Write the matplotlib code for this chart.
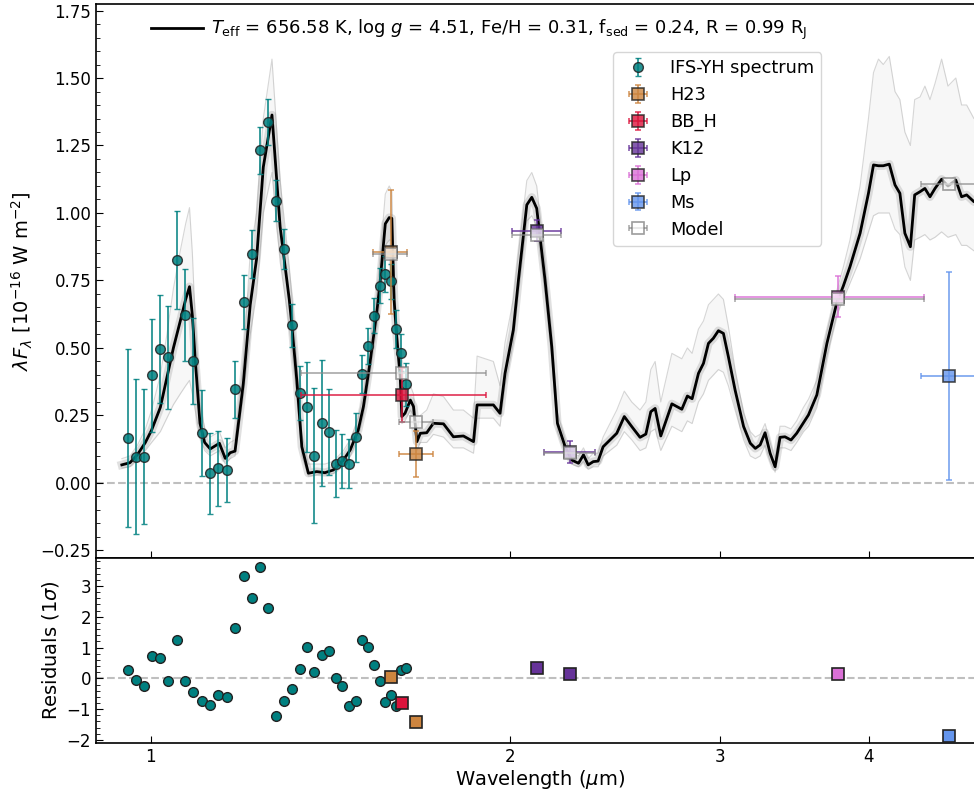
"""
Best-fit atmosphere model vs. IFS-YH spectrum + photometry, with residuals.
"""

import matplotlib.pyplot as plt
import numpy as np
from matplotlib.ticker import MultipleLocator, NullLocator, FixedLocator

# ---------------------------------------------------------------------------
# Data
# ---------------------------------------------------------------------------

# IFS-YH spectrum
ifs_wave = [0.957, 0.972, 0.987, 1.002, 1.018, 1.035, 1.052, 1.069, 1.086, 1.104,
            1.122, 1.140, 1.159, 1.178, 1.197, 1.216, 1.235, 1.255, 1.274, 1.294,
            1.313, 1.334, 1.353, 1.372, 1.392, 1.411, 1.430, 1.448, 1.467, 1.486,
            1.503, 1.521, 1.539, 1.556, 1.573, 1.589, 1.605, 1.621, 1.636]
ifs_flux = [0.167, 0.097, 0.097, 0.399, 0.497, 0.465, 0.826, 0.622, 0.452, 0.184,
            0.036, 0.054, 0.048, 0.347, 0.670, 0.848, 1.233, 1.336, 1.046, 0.866,
            0.584, 0.334, 0.281, 0.100, 0.223, 0.189, 0.072, 0.081, 0.072, 0.169,
            0.403, 0.507, 0.620, 0.731, 0.774, 0.747, 0.569, 0.483, 0.366]
ifs_err = [0.330, 0.287, 0.250, 0.210, 0.200, 0.190, 0.180, 0.170, 0.160, 0.160,
           0.150, 0.140, 0.120, 0.106, 0.100, 0.090, 0.087, 0.085, 0.075, 0.074,
           0.080, 0.100, 0.166, 0.250, 0.233, 0.160, 0.124, 0.100, 0.090, 0.090,
           0.070, 0.068, 0.064, 0.064, 0.065, 0.065, 0.070, 0.070, 0.080]
ifs_resid = [0.26, -0.04, -0.26, 0.72, 0.67, -0.10, 1.24, -0.10, -0.43, -0.73,
             -0.87, -0.55, -0.62, 1.64, 3.34, 2.62, 3.63, 2.28, -1.22, -0.72,
             -0.34, 0.30, 1.03, 0.20, 0.77, 0.89, 0.02, -0.24, -0.91, -0.72,
             1.24, 1.02, 0.45, -0.10, -0.76, -0.53, -0.90, 0.28, 0.33]

# photometry: name, colour, wavelength, half-width, flux, error, model flux, residual
phot_names  = ["H23", "H23", "BB_H", "K12", "K12", "Lp", "Ms"]
phot_colors = ["peru", "peru", "crimson", "rebeccapurple", "rebeccapurple",
               "orchid", "cornflowerblue"]
phot_wave  = [1.589, 1.670, 1.624, 2.108, 2.248, 3.770, 4.665]
phot_width = [0.052, 0.056, 0.287, 0.101, 0.112, 0.683, 0.245]
phot_flux  = [0.857, 0.107, 0.326, 0.935, 0.115, 0.690, 0.396]
phot_err   = [0.230, 0.085, 0.100, 0.040, 0.040, 0.075, 0.386]
phot_model = [0.848, 0.227, 0.406, 0.920, 0.110, 0.680, 1.107]
phot_resid = [0.04, -1.43, -0.80, 0.35, 0.13, 0.15, -1.86]

# best-fit model spectrum and the spread of the posterior draws
mod_wave = [0.946, 0.961, 0.975, 0.990, 1.002, 1.019, 1.032, 1.045, 1.059, 1.070,
            1.078, 1.084, 1.090, 1.100, 1.110, 1.122, 1.142, 1.155, 1.166, 1.177,
            1.196, 1.212, 1.227, 1.243, 1.264, 1.284, 1.307, 1.313, 1.326, 1.339,
            1.356, 1.378, 1.400, 1.423, 1.451, 1.470, 1.493, 1.508, 1.527, 1.547,
            1.557, 1.573, 1.585, 1.593, 1.600, 1.608, 1.619, 1.624, 1.634, 1.651,
            1.661, 1.672, 1.683, 1.704, 1.726, 1.760, 1.794, 1.829, 1.865, 1.878,
            1.938, 1.963, 1.982, 2.014, 2.034, 2.067, 2.087, 2.107, 2.141, 2.169,
            2.193, 2.226, 2.254, 2.284, 2.306, 2.327, 2.350, 2.372, 2.395, 2.427,
            2.459, 2.495, 2.531, 2.572, 2.601, 2.626, 2.648, 2.677, 2.735, 2.788,
            2.818, 2.844, 2.879, 2.907, 2.935, 2.963, 2.992, 3.021, 3.050, 3.090,
            3.141, 3.182, 3.213, 3.243, 3.274, 3.306, 3.338, 3.370, 3.402, 3.442,
            3.480, 3.526, 3.560, 3.618, 3.689, 3.759, 3.808, 3.857, 3.933, 3.997,
            4.036, 4.075, 4.113, 4.161, 4.207, 4.247, 4.288, 4.334, 4.370, 4.416,
            4.457, 4.501, 4.545, 4.603, 4.660, 4.731, 4.784, 4.831, 4.899, 5.004]
mod_flux = [0.067, 0.075, 0.105, 0.150, 0.196, 0.280, 0.390, 0.500, 0.600, 0.680,
            0.727, 0.620, 0.456, 0.221, 0.150, 0.126, 0.147, 0.091, 0.112, 0.118,
            0.369, 0.660, 0.830, 1.170, 1.363, 0.950, 0.678, 0.590, 0.381, 0.134,
            0.036, 0.042, 0.038, 0.048, 0.085, 0.122, 0.196, 0.283, 0.443, 0.628,
            0.740, 0.960, 0.983, 0.980, 0.678, 0.542, 0.394, 0.246, 0.258, 0.307,
            0.283, 0.153, 0.184, 0.186, 0.221, 0.219, 0.171, 0.174, 0.153, 0.289,
            0.289, 0.258, 0.406, 0.567, 0.752, 1.030, 1.058, 1.017, 0.752, 0.505,
            0.221, 0.134, 0.085, 0.073, 0.104, 0.067, 0.079, 0.081, 0.134, 0.159,
            0.184, 0.246, 0.209, 0.169, 0.181, 0.264, 0.276, 0.174, 0.293, 0.273,
            0.322, 0.312, 0.406, 0.443, 0.517, 0.536, 0.564, 0.554, 0.468, 0.344,
            0.209, 0.147, 0.128, 0.141, 0.186, 0.110, 0.060, 0.169, 0.171, 0.159,
            0.184, 0.223, 0.252, 0.326, 0.517, 0.666, 0.730, 0.801, 0.925, 1.073,
            1.178, 1.175, 1.175, 1.181, 1.104, 1.073, 0.925, 0.875, 1.067, 1.079,
            1.091, 1.060, 1.091, 1.125, 1.100, 1.122, 1.060, 1.067, 1.042, 1.030]
mod_hi = [0.090, 0.100, 0.140, 0.200, 0.270, 0.400, 0.550, 0.720, 0.860, 0.960,
          1.020, 0.850, 0.600, 0.300, 0.200, 0.170, 0.190, 0.130, 0.150, 0.160,
          0.450, 0.850, 1.000, 1.350, 1.570, 1.120, 0.800, 0.700, 0.450, 0.180,
          0.070, 0.070, 0.070, 0.080, 0.120, 0.160, 0.240, 0.330, 0.500, 0.700,
          0.830, 1.070, 1.100, 1.080, 0.740, 0.600, 0.440, 0.300, 0.320, 0.360,
          0.330, 0.200, 0.250, 0.270, 0.330, 0.320, 0.270, 0.270, 0.240, 0.470,
          0.450, 0.360, 0.520, 0.680, 0.850, 1.120, 1.150, 1.100, 0.820, 0.560,
          0.260, 0.160, 0.110, 0.100, 0.130, 0.090, 0.110, 0.110, 0.170, 0.220,
          0.270, 0.340, 0.300, 0.270, 0.300, 0.420, 0.450, 0.300, 0.480, 0.460,
          0.500, 0.480, 0.570, 0.600, 0.660, 0.680, 0.700, 0.680, 0.580, 0.420,
          0.260, 0.190, 0.170, 0.180, 0.220, 0.150, 0.090, 0.210, 0.210, 0.200,
          0.230, 0.280, 0.310, 0.380, 0.560, 0.710, 0.800, 0.900, 1.100, 1.350,
          1.520, 1.570, 1.550, 1.580, 1.450, 1.420, 1.300, 1.250, 1.420, 1.430,
          1.470, 1.420, 1.480, 1.570, 1.470, 1.500, 1.400, 1.400, 1.350, 1.330]
mod_lo = [0.055, 0.060, 0.090, 0.120, 0.150, 0.190, 0.240, 0.290, 0.330, 0.360,
          0.380, 0.330, 0.270, 0.170, 0.120, 0.100, 0.120, 0.070, 0.090, 0.100,
          0.320, 0.550, 0.700, 1.000, 1.150, 0.820, 0.580, 0.500, 0.320, 0.100,
          0.025, 0.030, 0.030, 0.035, 0.070, 0.100, 0.170, 0.250, 0.400, 0.570,
          0.670, 0.880, 0.900, 0.900, 0.620, 0.500, 0.360, 0.220, 0.230, 0.270,
          0.250, 0.120, 0.150, 0.150, 0.180, 0.170, 0.130, 0.130, 0.110, 0.240,
          0.240, 0.210, 0.360, 0.520, 0.700, 0.970, 0.990, 0.950, 0.700, 0.460,
          0.190, 0.110, 0.070, 0.060, 0.080, 0.050, 0.060, 0.060, 0.100, 0.120,
          0.140, 0.190, 0.160, 0.120, 0.130, 0.190, 0.200, 0.120, 0.210, 0.190,
          0.230, 0.220, 0.300, 0.330, 0.380, 0.400, 0.420, 0.410, 0.360, 0.270,
          0.160, 0.100, 0.090, 0.100, 0.140, 0.080, 0.040, 0.130, 0.130, 0.120,
          0.150, 0.190, 0.210, 0.280, 0.470, 0.620, 0.680, 0.740, 0.830, 0.930,
          0.990, 1.000, 1.000, 1.000, 0.940, 0.920, 0.800, 0.750, 0.900, 0.910,
          0.920, 0.900, 0.910, 0.930, 0.910, 0.920, 0.880, 0.880, 0.860, 0.850]

fit_label = (r"$T_{\rm eff}$ = 656.58 K, log $g$ = 4.51, Fe/H = 0.31, "
             r"f$_{\rm sed}$ = 0.24, R = 0.99 R$_{\rm J}$")

# ---------------------------------------------------------------------------
# Figure layout (right edge of the axes runs past the image, as in the original)
# ---------------------------------------------------------------------------

W, H = 974, 798
fig = plt.figure(figsize=(W / 100, H / 100), dpi=100)
x0, x1 = 0.9, 5.0
left_px, px_per_dec = 96, 1193
ax_w = px_per_dec * np.log10(x1 / x0) / W
ax  = fig.add_axes([left_px / W, 1 - 558 / H, ax_w, (558 - 3.5) / H])
axr = fig.add_axes([left_px / W, 1 - 742.7 / H, ax_w, (742.7 - 558) / H], sharex=ax)

# ---- Spectrum panel --------------------------------------------------------
ax.fill_between(mod_wave, mod_lo, mod_hi, color="0.6", alpha=0.07, lw=0, zorder=1)
ax.plot(mod_wave, mod_hi, color="0.55", lw=0.8, alpha=0.35, zorder=1)
ax.plot(mod_wave, mod_lo, color="0.55", lw=0.8, alpha=0.35, zorder=1)
ax.plot(mod_wave, mod_flux, color="0.4", lw=6, alpha=0.2, zorder=2)
fit_line, = ax.plot(mod_wave, mod_flux, color="black", lw=2, zorder=3, label=fit_label)

ax.axhline(0, color="0.75", ls="--", lw=1.5, zorder=0)

ifs = ax.errorbar(ifs_wave, ifs_flux, yerr=ifs_err, fmt="o", color="teal", ms=7,
                  mec="#222222", mew=1, ecolor="teal", elinewidth=1.3, capsize=2.5,
                  capthick=1.3, alpha=0.85, zorder=5, label="IFS-YH spectrum")

handles = [ifs]
seen = set()
for i in range(len(phot_wave)):
    lab = phot_names[i] if phot_names[i] not in seen else None
    seen.add(phot_names[i])
    h = ax.errorbar(phot_wave[i], phot_flux[i], xerr=phot_width[i], yerr=phot_err[i],
                    fmt="s", color=phot_colors[i], ms=8.5, mec="#222222", mew=1.2,
                    ecolor=phot_colors[i], elinewidth=1.3, capsize=2.5, capthick=1.3,
                    alpha=0.8, zorder=6, label=lab)
    if lab:
        handles.append(h)

mod_pts = ax.errorbar(phot_wave, phot_model, xerr=phot_width, fmt="s", color="0.55",
                      ms=8.5, mfc="white", mec="0.45", mew=1.2, ecolor="0.55",
                      elinewidth=1.3, capsize=2.5, capthick=1.3, alpha=0.7, zorder=7,
                      label="Model")
handles.append(mod_pts)

leg_fit = ax.legend(handles=[fit_line], loc="upper left", frameon=False, fontsize=13,
                    handlelength=2.9, handletextpad=0.45, borderpad=0, borderaxespad=0,
                    bbox_to_anchor=(151 / W, 1 - 18 / H), bbox_transform=fig.transFigure)
ax.add_artist(leg_fit)
ax.legend(handles=handles, loc="upper left", fontsize=12.8, borderaxespad=0,
          bbox_to_anchor=(613 / W, 1 - 52 / H), bbox_transform=fig.transFigure)

ax.set_xscale("log")
ax.set_xlim(x0, x1)
ax.set_ylim(-0.278, 1.776)
ax.set_ylabel(r"$\lambda F_\lambda$ [$10^{-16}$ W m$^{-2}$]", fontsize=14)
ax.yaxis.set_major_locator(MultipleLocator(0.25))
ax.yaxis.set_minor_locator(MultipleLocator(0.05))
ax.tick_params(axis="x", labelbottom=False)

# ---- Residual panel --------------------------------------------------------
axr.axhline(0, color="0.75", ls="--", lw=1.5, zorder=0)
axr.plot(ifs_wave, ifs_resid, "o", color="teal", ms=7, mec="#222222", mew=1, zorder=5)
for i in range(len(phot_wave)):
    axr.plot(phot_wave[i], phot_resid[i], "s", color=phot_colors[i], ms=8.5,
             mec="#222222", mew=1.2, zorder=6)
axr.set_ylim(-2.09, 3.91)
axr.yaxis.set_major_locator(MultipleLocator(1))
axr.yaxis.set_minor_locator(MultipleLocator(0.2))
axr.set_ylabel(r"Residuals (1$\sigma$)", fontsize=14)
axr.set_xlabel(r"Wavelength ($\mu$m)", fontsize=14, labelpad=2)

axr.xaxis.set_major_locator(FixedLocator([1, 2, 3, 4]))
axr.xaxis.set_minor_locator(NullLocator())
axr.set_xticklabels(["1", "2", "3", "4"])

for a in (ax, axr):
    a.tick_params(which="both", direction="in", labelsize=12)
    a.tick_params(which="major", length=5)
    a.tick_params(which="minor", length=3)
    for s in a.spines.values():
        s.set_linewidth(1.2)

fig.savefig("out.png", dpi=100)
